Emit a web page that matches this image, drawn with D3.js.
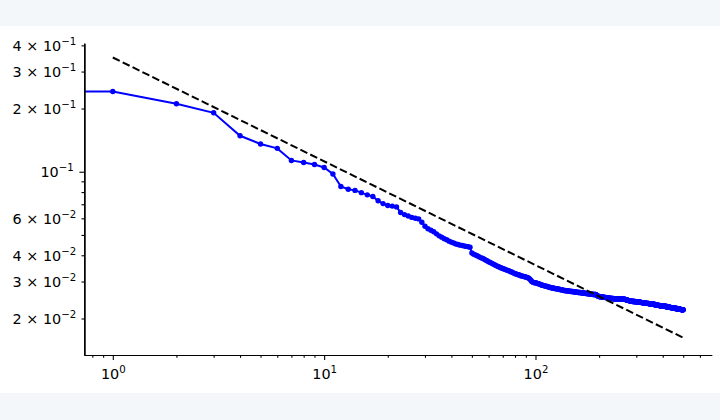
<!DOCTYPE html>
<html>
<head>
<meta charset="utf-8">
<script src="https://cdn.jsdelivr.net/npm/d3@7/dist/d3.min.js"></script>
<style>
body { margin: 0; background: #f4f7fa; }
svg { display: block; }
svg text { font-family: "DejaVu Sans", sans-serif; }
</style>
</head>
<body>
<svg id="chart" width="720" height="420"></svg>
<script>

// measured values, in units of 1e-4, index = x (0..500)
var valuesE4 = [
    2410,
    2410, 2106, 1908, 1483, 1356, 1292, 1132, 1107, 1083, 1048,
    975, 850, 825, 815, 795, 776, 762, 727, 705, 690,
    686, 680, 640, 625, 615, 606, 600, 596, 575, 550,
    535, 526, 518, 506, 495, 488, 480, 474, 467, 462,
    458, 453, 450, 447, 445, 443, 441, 439, 437, 410,
    405, 401, 398, 394, 390, 387, 384, 380, 377, 373,
    370, 367, 364, 361, 358, 355, 353, 350, 348, 346,
    344, 342, 340, 339, 337, 335, 333, 331, 329, 327,
    326, 324, 323, 322, 320, 319, 318, 317, 316, 315,
    314, 313, 311, 308, 304, 300, 298, 297, 296, 296,
    295, 294, 293, 292, 291, 290, 288, 288, 287, 286,
    286, 285, 284, 284, 283, 282, 281, 281, 280, 280,
    279, 279, 278, 278, 277, 277, 277, 276, 276, 275,
    275, 274, 274, 273, 273, 272, 272, 272, 271, 271,
    271, 271, 270, 270, 270, 270, 269, 269, 269, 269,
    268, 268, 268, 268, 267, 267, 267, 267, 266, 266,
    266, 266, 266, 265, 265, 265, 265, 264, 264, 264,
    264, 264, 263, 263, 263, 263, 262, 262, 262, 262,
    262, 261, 261, 261, 261, 261, 260, 260, 260, 260,
    260, 260, 260, 259, 258, 257, 256, 255, 255, 255,
    254, 254, 254, 254, 253, 253, 253, 253, 253, 252,
    252, 252, 252, 252, 252, 251, 251, 251, 251, 251,
    251, 250, 250, 250, 250, 250, 249, 249, 249, 249,
    249, 249, 249, 248, 248, 248, 248, 248, 248, 248,
    248, 248, 248, 248, 248, 248, 248, 248, 248, 248,
    248, 248, 248, 248, 247, 247, 247, 247, 247, 247,
    247, 247, 247, 247, 247, 246, 246, 246, 245, 245,
    245, 245, 244, 244, 244, 244, 243, 243, 243, 243,
    243, 242, 242, 242, 242, 242, 242, 241, 241, 241,
    241, 241, 241, 241, 241, 241, 240, 240, 240, 240,
    240, 240, 240, 240, 240, 240, 240, 239, 239, 239,
    239, 239, 239, 239, 239, 238, 238, 238, 238, 238,
    238, 238, 238, 238, 237, 237, 237, 237, 237, 237,
    237, 237, 236, 236, 236, 236, 236, 236, 236, 236,
    236, 236, 236, 235, 235, 235, 235, 235, 235, 235,
    235, 235, 235, 235, 235, 234, 234, 234, 234, 234,
    234, 234, 233, 233, 233, 233, 233, 233, 233, 232,
    232, 232, 232, 232, 232, 232, 232, 231, 231, 231,
    231, 231, 231, 231, 231, 231, 230, 230, 230, 230,
    230, 230, 230, 230, 230, 230, 230, 230, 229, 229,
    229, 229, 229, 229, 229, 229, 229, 229, 229, 229,
    228, 228, 228, 228, 228, 228, 228, 228, 228, 227,
    227, 227, 227, 227, 227, 227, 227, 227, 226, 226,
    226, 226, 226, 226, 226, 226, 226, 225, 225, 225,
    225, 225, 225, 225, 225, 225, 225, 224, 224, 224,
    224, 224, 224, 224, 224, 224, 224, 223, 223, 223,
    223, 223, 223, 223, 223, 223, 223, 223, 222, 222,
    222, 222, 222, 222, 222, 222, 222, 222, 222, 221,
    221, 221, 221, 221, 221, 221, 221, 221, 221, 221,
    220, 220, 220, 220, 220, 220, 220, 220, 220, 220
];

// dashed reference line end points
var refX = [1, 500];
var refY = [0.350, 0.0162];

// ticks
var xMajorTicks = [1, 10, 100];
var xMinorTicks = [0.8, 0.9, 2, 3, 4, 5, 6, 7, 8, 9, 20, 30, 40, 50, 60, 70, 80, 90, 200, 300, 400, 500, 600];
var yMajorTicks = [0.1];
var yLabelTicks = [0.4, 0.3, 0.2, 0.06, 0.04, 0.03, 0.02];
var yLabelMant = ["4", "3", "2", "6", "4", "3", "2"];
var yLabelExp = ["\u22121", "\u22121", "\u22121", "\u22122", "\u22122", "\u22122", "\u22122"];
var yMinorTicks = [0.05, 0.07, 0.08, 0.09];

var svg = d3.select("#chart");

// white figure area
svg.append("rect")
    .attr("x", 0).attr("y", 26)
    .attr("width", 720).attr("height", 367)
    .style("fill", "white");

var plotLeft = 84.3, plotRight = 711.7, plotTop = 43.3, plotBottom = 355;

var x = d3.scaleLog().domain([0.733, 682]).range([plotLeft, plotRight]);
var y = d3.scaleLog().domain([0.0134, 0.409]).range([plotBottom, plotTop]);

var data = valuesE4.map(function(v, i) { return {x: i, y: v / 10000}; });

svg.append("clipPath").attr("id", "plotClip")
    .append("rect")
    .attr("x", plotLeft).attr("y", plotTop - 10)
    .attr("width", plotRight - plotLeft).attr("height", plotBottom - plotTop + 10);

var plot = svg.append("g").attr("clip-path", "url(#plotClip)");

// x=0 is clipped far to the left like matplotlib does
var px = function(d) { return x(Math.max(d.x, 1e-6)); };

var line = d3.line()
    .x(px)
    .y(function(d) { return y(d.y); });

plot.append("path")
    .datum(data)
    .attr("d", line)
    .style("fill", "none")
    .style("stroke", "#0000ff")
    .style("stroke-width", 2);

plot.append("g")
    .selectAll("circle")
    .data(data)
    .enter().append("circle")
    .attr("cx", px)
    .attr("cy", function(d) { return y(d.y); })
    .attr("r", 2.7)
    .style("fill", "#0000ff");

//Dashed reference line
var refData = refX.map(function(v, i) { return {x: v, y: refY[i]}; });
plot.append("path")
    .datum(refData)
    .attr("d", line)
    .style("fill", "none")
    .style("stroke", "black")
    .style("stroke-width", 2)
    .style("stroke-dasharray", "7.7,3.3");

// axes
var fontSize = 14.4, supSize = 10.2;
var fontFamily = "'DejaVu Sans', sans-serif";

function styleAxis(g) {
    g.selectAll("path, line").style("stroke", "black").style("stroke-width", 1.1);
    g.selectAll("text").remove();
}

svg.append("g")
    .attr("transform", "translate(0," + plotBottom + ")")
    .call(d3.axisBottom(x).tickValues(xMinorTicks).tickSize(2.8).tickSizeOuter(0).tickFormat(""))
    .call(styleAxis);

var xAxis = svg.append("g")
    .attr("transform", "translate(0," + plotBottom + ")")
    .call(d3.axisBottom(x).tickValues(xMajorTicks).tickSize(4.9).tickSizeOuter(0).tickFormat(""))
    .call(styleAxis);

xAxis.selectAll(".tick").each(function(d) {
    var t = d3.select(this).append("text")
        .attr("y", 23.5)
        .style("text-anchor", "middle")
        .style("font-family", fontFamily)
        .style("font-size", fontSize + "px")
        .style("fill", "black");
    t.append("tspan").text("10");
    t.append("tspan").attr("dy", -5.8).style("font-size", supSize + "px").text(Math.round(Math.log10(d)));
});

svg.append("g")
    .attr("transform", "translate(" + plotLeft + ",0)")
    .call(d3.axisLeft(y).tickValues(yMinorTicks).tickSize(2.8).tickSizeOuter(0).tickFormat(""))
    .call(styleAxis);

var yLab = svg.append("g")
    .attr("transform", "translate(" + plotLeft + ",0)")
    .call(d3.axisLeft(y).tickValues(yLabelTicks).tickSize(2.8).tickSizeOuter(0).tickFormat(""))
    .call(styleAxis);

yLab.selectAll(".tick").each(function(d, i) {
    var t = d3.select(this).append("text")
        .attr("x", -8)
        .attr("y", 5.2)
        .style("text-anchor", "end")
        .style("font-family", fontFamily)
        .style("font-size", fontSize + "px")
        .style("fill", "black");
    t.append("tspan").text(yLabelMant[i] + " \u00d7 10");
    t.append("tspan").attr("dy", -6).style("font-size", supSize + "px").text(yLabelExp[i]);
});

var yMaj = svg.append("g")
    .attr("transform", "translate(" + plotLeft + ",0)")
    .call(d3.axisLeft(y).tickValues(yMajorTicks).tickSize(4.9).tickSizeOuter(0).tickFormat(""))
    .call(styleAxis);

yMaj.selectAll(".tick").each(function(d) {
    var t = d3.select(this).append("text")
        .attr("x", -10.5)
        .attr("y", 5.2)
        .style("text-anchor", "end")
        .style("font-family", fontFamily)
        .style("font-size", fontSize + "px")
        .style("fill", "black");
    t.append("tspan").text("10");
    t.append("tspan").attr("dy", -6).style("font-size", supSize + "px").text("\u22121");
});

</script>
</body>
</html>
